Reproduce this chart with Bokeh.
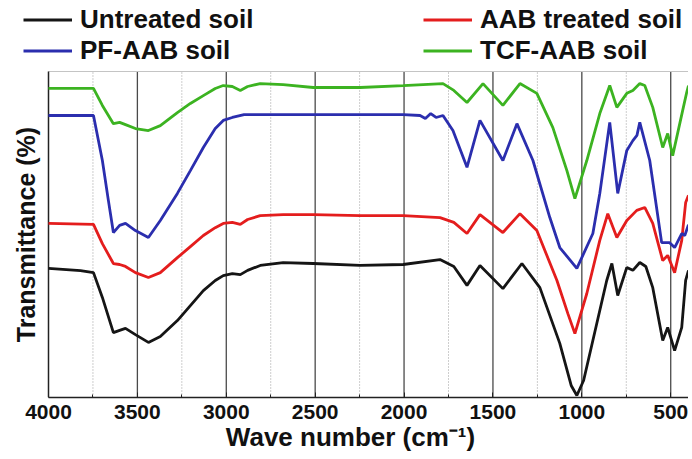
import math
from bokeh.plotting import figure
from bokeh.models import Range1d, FixedTicker, Legend, LegendItem
from bokeh.core.properties import value
from bokeh.embed import file_html
from bokeh.resources import INLINE

# ---- data (wave number in cm^-1, transmittance in arbitrary offset %) ----
wn_untreated = [4000, 3820, 3747, 3697, 3635, 3600, 3567, 3511, 3438, 3371, 3275, 3202,
                3129, 3062, 3017, 2966, 2921, 2880, 2809, 2680, 2511, 2247, 2005, 1798,
                1720, 1646, 1573, 1444, 1337, 1236, 1124, 1060, 1028, 990, 938, 860,
                831, 798, 747, 713, 674, 640, 601, 545, 517, 478, 438, 416, 400]
t_untreated = [39.6, 38.9, 38.3, 30.7, 19.9, 20.6, 21.2, 19.3, 16.9, 18.7, 23.6, 28.2,
               32.8, 35.9, 37.4, 38.0, 37.7, 39.0, 40.5, 41.4, 41.1, 40.5, 40.8, 42.3,
               40.2, 34.4, 40.5, 33.4, 41.1, 33.7, 16.6, 3.7, 0.6, 5.2, 17.5, 35.9,
               41.1, 31.3, 39.9, 39.0, 41.4, 40.2, 33.7, 17.5, 21.5, 14.4, 21.5, 35.9, 39.0]

wn_aab = [4000, 3747, 3697, 3635, 3600, 3567, 3511, 3438, 3371, 3275, 3202, 3129,
          3062, 3017, 2966, 2921, 2880, 2809, 2680, 2511, 2247, 2005, 1798, 1720,
          1646, 1573, 1444, 1348, 1253, 1140, 1079, 1039, 972, 899, 854, 803,
          747, 691, 646, 601, 545, 517, 478, 438, 416, 400]
t_aab = [53.4, 53.1, 47.2, 41.1, 40.8, 40.2, 38.3, 36.8, 38.3, 42.9, 46.3, 49.7,
         52.1, 53.4, 53.7, 53.1, 54.6, 55.8, 56.1, 56.1, 55.8, 55.8, 55.2, 53.7,
         50.3, 56.1, 50.6, 56.4, 51.2, 35.9, 25.8, 19.6, 31.9, 48.2, 56.4, 49.1,
         54.3, 57.4, 58.3, 53.4, 42.0, 43.6, 38.3, 48.2, 59.8, 62.0]

wn_pf = [4000, 3747, 3697, 3663, 3635, 3600, 3567, 3511, 3438, 3371, 3275, 3202,
         3129, 3062, 3017, 2966, 2900, 2005, 1910, 1880, 1850, 1820, 1781, 1725,
         1646, 1573, 1444, 1365, 1275, 1180, 1124, 1028, 938, 899, 843, 798,
         747, 713, 690, 674, 618, 551, 506, 478, 438, 421, 400]
t_pf = [86.5, 86.5, 72.7, 60.4, 50.6, 52.8, 53.4, 51.2, 49.1, 54.3, 62.6, 69.6,
        76.7, 82.5, 85.0, 85.9, 86.8, 86.8, 86.5, 85.6, 87.1, 85.9, 86.5, 81.9,
        70.6, 85.0, 72.7, 84.0, 72.7, 55.2, 46.0, 39.6, 50.3, 62.6, 84.4, 62.6,
        75.8, 78.8, 80.4, 84.4, 72.7, 47.5, 47.5, 46.0, 50.3, 49.7, 53.0]

wn_tcf = [4000, 3747, 3697, 3635, 3600, 3567, 3511, 3438, 3371, 3275, 3202, 3129,
          3062, 3017, 2966, 2921, 2880, 2809, 2680, 2511, 2247, 2005, 1781, 1720,
          1646, 1556, 1444, 1348, 1253, 1163, 1084, 1039, 972, 899, 843, 803,
          747, 713, 674, 646, 601, 545, 517, 489, 433, 410, 400]
t_tcf = [94.8, 94.8, 89.6, 84.0, 84.4, 83.7, 82.5, 81.9, 83.4, 87.4, 90.2, 92.6,
         94.8, 95.7, 95.4, 94.2, 95.4, 96.3, 96.0, 95.1, 95.1, 95.7, 96.3, 94.2,
         90.5, 96.3, 89.6, 96.3, 93.3, 82.8, 69.6, 61.0, 72.7, 87.1, 95.7, 89.0,
         93.3, 94.2, 96.3, 95.7, 89.0, 76.7, 81.0, 74.2, 88.0, 93.6, 95.7]

series_labels = ["Untreated soil", "AAB treated soil", "PF-AAB soil", "TCF-AAB soil"]
major_ticks = [4000, 3500, 3000, 2500, 2000, 1500, 1000, 500]
minor_ticks = [3750, 3250, 2750, 2250, 1750, 1250, 750]
y_title = "Transmittance (%)"
x_title = "Wave number (cm\u207b\u00b9)"

X_START, X_END = 4000, 400      # wave-number axis (reversed)
X_ROOM = 4202.5                 # room left of 4000 for legend keys and y title
Y_BOTTOM, Y_TOP = 0, 100        # plotted transmittance span
Y_ROOM = 120.25                 # room above the spectra for the legend
Y_TITLE_X, Y_TITLE_Y = 4129, 50 # where the y-axis title sits

FONT = "Liberation Sans"
AXIS_COLOR = "#222222"
TEXT_COLOR = "#111111"

p = figure(frame_width=676, frame_height=392, output_backend="svg",
           toolbar_location=None, title=None,
           x_range=Range1d(X_ROOM, X_END), y_range=Range1d(Y_BOTTOM, Y_ROOM),
           min_border_left=12, min_border_top=5, min_border_right=0,
           min_border_bottom=0)
p.background_fill_color = "white"
p.outline_line_color = None

# grid lines (only over the spectra area), top border and y-axis rule
p.segment(x0=major_ticks[1:], y0=Y_BOTTOM, x1=major_ticks[1:], y1=Y_TOP,
          line_color="#4a4a4a", line_width=1.3)
p.segment(x0=minor_ticks, y0=Y_BOTTOM, x1=minor_ticks, y1=Y_TOP,
          line_color="#9c9c9c", line_width=1, line_dash="1 2")
p.segment(x0=[X_START], y0=[Y_TOP], x1=[X_END], y1=[Y_TOP],
          line_color="#c4c4c4", line_width=1)
p.segment(x0=[X_START], y0=[Y_BOTTOM], x1=[X_START], y1=[Y_TOP],
          line_color=AXIS_COLOR, line_width=1.5)

r_black = p.line(wn_untreated, t_untreated, line_color="#151515", line_width=2.8)
r_red = p.line(wn_aab, t_aab, line_color="#e41d1d", line_width=2.8)
r_blue = p.line(wn_pf, t_pf, line_color="#2b2eae", line_width=2.8)
r_green = p.line(wn_tcf, t_tcf, line_color="#3cb321", line_width=2.8)

# y-axis title
p.text(x=[Y_TITLE_X], y=[Y_TITLE_Y], text=[y_title], angle=math.pi / 2,
       text_align="center", text_baseline="middle",
       text_font=value(FONT), text_font_style="bold", text_font_size="25px",
       text_color=TEXT_COLOR)

# x axis
p.xaxis.ticker = FixedTicker(ticks=major_ticks, minor_ticks=minor_ticks)
p.xaxis.bounds = (X_END, X_START)
p.xaxis.axis_label = x_title
p.xaxis.axis_label_text_font = FONT
p.xaxis.axis_label_text_font_style = "bold"
p.xaxis.axis_label_text_font_size = "26px"
p.xaxis.axis_label_text_color = TEXT_COLOR
p.xaxis.axis_label_standoff = 0
p.xaxis.major_label_text_font = FONT
p.xaxis.major_label_text_font_style = "bold"
p.xaxis.major_label_text_font_size = "21px"
p.xaxis.major_label_text_color = TEXT_COLOR
p.xaxis.major_label_standoff = 7
p.xaxis.major_tick_in = 5
p.xaxis.major_tick_out = 0
p.xaxis.minor_tick_in = 3
p.xaxis.minor_tick_out = 0
p.xaxis.axis_line_width = 1.5
p.xaxis.axis_line_color = AXIS_COLOR
p.xaxis.major_tick_line_color = AXIS_COLOR
p.xaxis.minor_tick_line_color = AXIS_COLOR

p.xgrid.visible = False
p.ygrid.visible = False
p.yaxis.visible = False

legend = Legend(
    items=[LegendItem(label=series_labels[0], renderers=[r_black]),
           LegendItem(label=series_labels[1], renderers=[r_red]),
           LegendItem(label=series_labels[2], renderers=[r_blue]),
           LegendItem(label=series_labels[3], renderers=[r_green])],
    location=(11, 331), orientation="horizontal", ncols=2,
    glyph_width=49, glyph_height=29, label_height=29, label_width=343,
    label_standoff=8, spacing=0, padding=0, margin=0,
    label_text_font=FONT, label_text_font_style="bold",
    label_text_font_size="26px", label_text_color=TEXT_COLOR,
    border_line_color=None, background_fill_alpha=0,
)
p.add_layout(legend)

open("out.html", "w").write(file_html(p, INLINE))
